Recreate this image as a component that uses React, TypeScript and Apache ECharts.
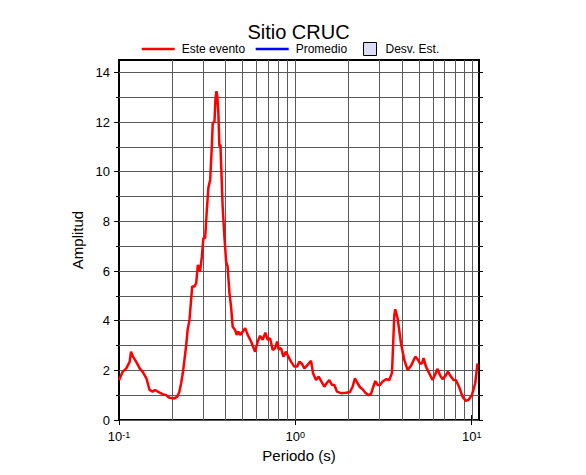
import React, { useEffect, useRef } from 'react';
import * as echarts from 'echarts';

const FONT = "'Liberation Sans', Arial, Helvetica, sans-serif";

// Period (s) and amplitude of "Este evento"
const periods = [
  0.100, 0.105, 0.110, 0.115, 0.117, 0.120, 0.125, 0.131, 0.136, 0.143,
  0.149, 0.155, 0.160, 0.170, 0.177, 0.185, 0.193, 0.206, 0.214, 0.220,
  0.225, 0.230, 0.235, 0.240, 0.245, 0.251, 0.260, 0.268, 0.274, 0.280,
  0.288, 0.295, 0.301, 0.308, 0.314, 0.321, 0.329, 0.336, 0.340, 0.348,
  0.352, 0.357, 0.361, 0.366, 0.371, 0.376, 0.381, 0.387, 0.396, 0.405,
  0.413, 0.423, 0.432, 0.441, 0.455, 0.465, 0.475, 0.486, 0.503, 0.519,
  0.537, 0.561, 0.591, 0.612, 0.631, 0.653, 0.676, 0.697, 0.719, 0.744,
  0.767, 0.788, 0.804, 0.830, 0.855, 0.886, 0.913, 0.945, 0.987, 1.022,
  1.054, 1.086, 1.125, 1.174, 1.227, 1.260, 1.310, 1.355, 1.398, 1.460,
  1.504, 1.558, 1.614, 1.663, 1.723, 1.815, 1.938, 2.041, 2.111, 2.178,
  2.254, 2.326, 2.406, 2.492, 2.602, 2.685, 2.767, 2.840, 2.927, 3.020,
  3.124, 3.266, 3.409, 3.532, 3.639, 3.687, 3.799, 3.972, 4.147, 4.328,
  4.524, 4.786, 4.931, 5.088, 5.222, 5.333, 5.503, 5.745, 5.998, 6.188,
  6.401, 6.605, 6.832, 7.078, 7.332, 7.624, 7.887, 8.138, 8.496, 8.870,
  9.271, 9.592, 10.03, 10.47, 10.79,
];
const amplitudes = [
  1.60, 1.95, 2.08, 2.35, 2.75, 2.55, 2.35, 2.08, 1.95, 1.68,
  1.21, 1.14, 1.21, 1.10, 1.04, 1.00, 0.90, 0.87, 0.94, 1.14,
  1.48, 1.88, 2.42, 2.96, 3.63, 4.03, 5.38, 5.38, 5.51, 6.25,
  5.98, 6.58, 7.33, 7.33, 8.33, 9.34, 9.68, 11.02, 11.96, 12.03,
  12.90, 13.24, 13.04, 12.37, 11.02, 11.09, 9.95, 8.60, 7.39, 6.38,
  6.18, 5.11, 4.57, 3.76, 3.63, 3.43, 3.56, 3.43, 3.56, 3.70,
  3.43, 3.16, 2.75, 3.16, 3.39, 3.23, 3.52, 3.23, 3.29, 2.82,
  2.89, 3.16, 2.85, 2.89, 2.55, 2.75, 2.55, 2.35, 2.15, 2.15,
  2.35, 2.28, 2.08, 2.22, 2.39, 1.88, 1.61, 1.75, 1.58, 1.34,
  1.48, 1.61, 1.41, 1.41, 1.14, 1.08, 1.10, 1.13, 1.34, 1.68,
  1.48, 1.32, 1.24, 1.10, 1.00, 1.05, 1.34, 1.57, 1.41, 1.41,
  1.55, 1.64, 1.61, 1.90, 4.20, 4.46, 4.10, 3.09, 2.42, 2.02,
  2.18, 2.55, 2.45, 2.28, 2.28, 2.49, 2.15, 1.88, 1.61, 1.81,
  2.06, 1.81, 1.65, 1.77, 1.95, 1.75, 1.61, 1.61, 1.32, 0.94,
  0.77, 0.81, 1.01, 1.48, 2.28,
];

// Axis layout values
const xMin = 0.1;
const xMax = 11;
const yMin = 0;
const yMax = 14.5;
const xDecades = [0.1, 1, 10];
const xGridPeriods = [0.2, 0.3, 0.4, 0.5, 0.6, 0.7, 0.8, 0.9, 1, 2, 3, 4, 5, 6, 7, 8, 9, 10];
const yTickValues = [0, 1, 2, 3, 4, 5, 6, 7, 8, 9, 10, 11, 12, 13, 14];
const yLabelValues = [0, 2, 4, 6, 8, 10, 12, 14];

export default function App() {
  const ref = useRef<HTMLDivElement>(null);

  useEffect(() => {
    document.body.style.margin = '0';
    const chart = echarts.init(ref.current as HTMLDivElement, null, { renderer: 'svg' });

    const lineData = periods.map((p, i) => [p, amplitudes[i]]);
    const gridData = xGridPeriods.map((p) => [p, 0]);

    const legendText = { fontSize: 12, fontFamily: FONT, color: '#000' };
    const gridColor = '#5a5a5a';

    const option: any = {
      animation: false,
      backgroundColor: '#fff',
      title: {
        text: 'Sitio CRUC',
        left: 298.5,
        textAlign: 'center',
        top: 22,
        padding: 0,
        textStyle: { fontSize: 20, fontWeight: 'normal', fontFamily: FONT, color: '#000' },
      },
      legend: [
        {
          data: ['Este evento'],
          left: 141.7,
          top: 43,
          padding: 0,
          icon: 'rect',
          itemWidth: 33,
          itemHeight: 2.5,
          selectedMode: false,
          textStyle: { ...legendText, padding: [0, 0, 0, 2] },
        },
        {
          data: ['Promedio'],
          left: 255.7,
          top: 43,
          padding: 0,
          icon: 'rect',
          itemWidth: 33,
          itemHeight: 2.5,
          selectedMode: false,
          textStyle: { ...legendText, padding: [0, 0, 0, 2] },
        },
        {
          data: ['Desv. Est.'],
          left: 363,
          top: 42,
          padding: 0,
          icon: 'rect',
          itemWidth: 13,
          itemHeight: 13,
          selectedMode: false,
          itemStyle: { borderColor: '#000', borderWidth: 1 },
          textStyle: { ...legendText, padding: [0, 0, 0, 4] },
        },
      ],
      grid: {
        left: 119,
        top: 60,
        width: 360,
        height: 360,
        show: true,
        borderColor: '#000',
        borderWidth: 2,
        backgroundColor: 'transparent',
      },
      xAxis: [
        {
          type: 'log',
          logBase: 10,
          min: xMin,
          max: xMax,
          position: 'bottom',
          name: 'Periodo (s)',
          nameLocation: 'middle',
          nameGap: 27,
          nameTextStyle: { fontSize: 15, fontFamily: FONT, color: '#000' },
          axisLine: { show: false },
          splitLine: { show: false },
          axisTick: { show: true, inside: false, length: 5, customValues: xDecades, lineStyle: { color: '#000', width: 1 } },
          axisLabel: {
            show: true,
            margin: 10,
            customValues: xDecades,
            formatter: (v: number) => `{b|10}{s|${Math.round(Math.log10(v))}}`,
            rich: {
              b: { fontSize: 13, fontFamily: FONT, color: '#000', verticalAlign: 'top', lineHeight: 13 },
              s: { fontSize: 9, fontFamily: FONT, color: '#000', verticalAlign: 'top', lineHeight: 9 },
            },
          },
        },
        {
          type: 'log',
          logBase: 10,
          min: xMin,
          max: xMax,
          position: 'top',
          axisLine: { show: false },
          splitLine: { show: false },
          axisTick: { show: true, inside: false, length: 5, customValues: xDecades, lineStyle: { color: '#000', width: 1 } },
          axisLabel: { show: false },
        },
      ],
      yAxis: [
        {
          type: 'value',
          min: yMin,
          max: yMax,
          interval: 1,
          position: 'left',
          name: 'Amplitud',
          nameLocation: 'middle',
          nameGap: 30,
          nameTextStyle: { fontSize: 15, fontFamily: FONT, color: '#000' },
          axisLine: { show: false },
          splitLine: { show: true, lineStyle: { color: gridColor, width: 1 } },
          axisTick: { show: true, length: 3, customValues: yTickValues, lineStyle: { color: '#000', width: 1 } },
          axisLabel: {
            show: true,
            margin: 9,
            customValues: yLabelValues,
            fontSize: 13,
            fontFamily: FONT,
            color: '#000',
          },
        },
        {
          type: 'value',
          min: yMin,
          max: yMax,
          interval: 1,
          position: 'right',
          axisLine: { show: false },
          splitLine: { show: false },
          axisTick: { show: true, length: 4, customValues: yTickValues, lineStyle: { color: '#000', width: 1 } },
          axisLabel: { show: false },
        },
        {
          type: 'value',
          min: yMin,
          max: yMax,
          interval: 1,
          position: 'left',
          axisLine: { show: false },
          splitLine: { show: false },
          axisTick: { show: true, length: 5, customValues: yLabelValues, lineStyle: { color: '#000', width: 1 } },
          axisLabel: { show: false },
        },
      ],
      series: [
        {
          type: 'custom',
          name: 'xgrid',
          silent: true,
          z: 1,
          xAxisIndex: 0,
          yAxisIndex: 0,
          encode: { x: 0, y: 1 },
          data: gridData,
          renderItem: (params: any, api: any) => {
            const pt = api.coord([api.value(0), api.value(1)]);
            const cs = params.coordSys;
            const x = Math.round(pt[0]) + 0.5;
            return {
              type: 'line',
              shape: { x1: x, y1: cs.y, x2: x, y2: cs.y + cs.height },
              style: { stroke: gridColor, lineWidth: 1 },
            };
          },
        },
        {
          type: 'line',
          name: 'Este evento',
          xAxisIndex: 0,
          yAxisIndex: 0,
          z: 3,
          color: '#ff0000',
          symbol: 'none',
          showSymbol: false,
          lineStyle: { color: '#ff0000', width: 2.5 },
          itemStyle: { color: '#ff0000' },
          data: lineData,
        },
        {
          type: 'line',
          name: 'Promedio',
          xAxisIndex: 0,
          yAxisIndex: 0,
          color: '#0000ff',
          symbol: 'none',
          lineStyle: { color: '#0000ff', width: 2 },
          itemStyle: { color: '#0000ff' },
          data: [],
        },
        {
          type: 'line',
          name: 'Desv. Est.',
          xAxisIndex: 0,
          yAxisIndex: 0,
          color: '#dcdcf5',
          symbol: 'none',
          lineStyle: { color: '#dcdcf5', width: 0 },
          itemStyle: { color: '#dcdcf5', borderColor: '#000', borderWidth: 1 },
          areaStyle: { color: '#dcdcf5' },
          data: [],
        },
      ],
    };

    chart.setOption(option);
    return () => chart.dispose();
  }, []);

  return <div ref={ref} style={{ width: 586, height: 475 }} />;
}
